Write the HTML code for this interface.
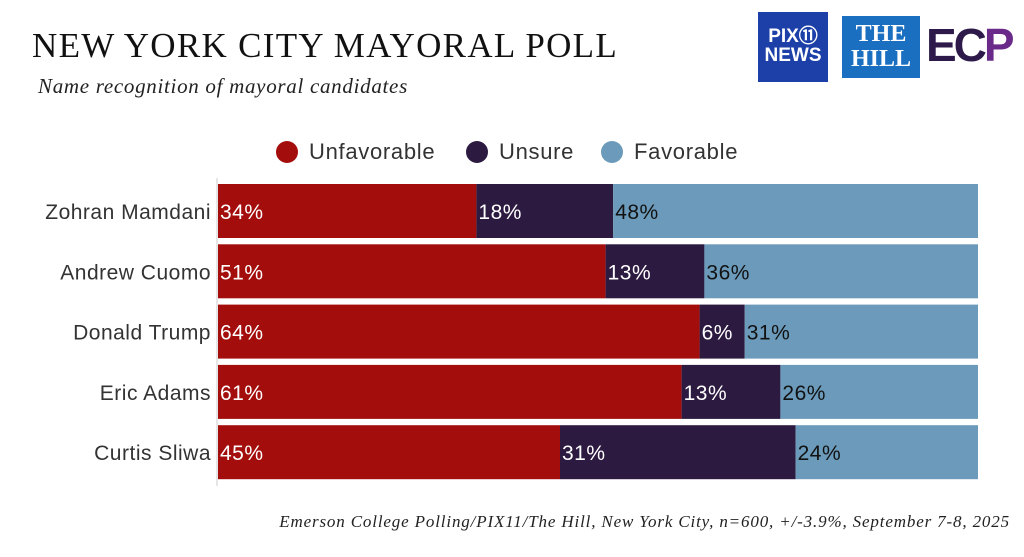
<!DOCTYPE html>
<html><head><meta charset="utf-8"><style>
body{margin:0;width:1024px;height:557px;background:#fff;overflow:hidden;position:relative;font-family:"Liberation Sans",sans-serif}
.t{position:absolute;white-space:nowrap}
</style></head><body>
<div class="t" style="left:32px;top:26px;font-family:'Liberation Serif',serif;font-size:35px;color:#111;letter-spacing:1.3px">NEW YORK CITY MAYORAL POLL</div>
<div class="t" style="left:38px;top:74px;font-family:'Liberation Serif',serif;font-style:italic;font-size:21px;color:#222;letter-spacing:0.7px">Name recognition of mayoral candidates</div>
<div class="t" style="left:758px;top:12px;width:70px;height:70px;background:#1c3fa8;color:#fff;font-weight:bold;font-size:19px;line-height:19px;text-align:center;padding-top:15px;box-sizing:border-box">PIX⑪<br>NEWS</div>
<div class="t" style="left:842px;top:16px;width:78px;height:62px;background:#1b6fc0;color:#fff;font-family:'Liberation Serif',serif;font-weight:bold;font-size:24px;line-height:25px;text-align:center;padding-top:6px;box-sizing:border-box">THE<br>HILL</div>
<div class="t" style="left:926px;top:18px;font-weight:bold;font-size:46px;color:#2d1a4a;letter-spacing:-3px">EC<span style="color:#6a2a8a">P</span></div>
<svg id="c" class="t" style="left:0;top:0" width="1024" height="557"></svg>
<div class="t" style="right:14px;top:512px;font-family:'Liberation Serif',serif;font-style:italic;font-size:17px;letter-spacing:0.85px;color:#222">Emerson College Polling/PIX11/The Hill, New York City, n=600, +/-3.9%, September 7-8, 2025</div>
<script>
const candidates=["Zohran Mamdani","Andrew Cuomo","Donald Trump","Eric Adams","Curtis Sliwa"];
const unfavorable=[34,51,64,61,45];
const unsure=[18,13,6,13,31];
const favorable=[48,36,31,26,24];
const seriesNames=["Unfavorable","Unsure","Favorable"];
const colors=["#a30e0c","#2c1a40","#6b9aba"];
const NS="http://www.w3.org/2000/svg";
const svg=document.getElementById('c');
const x0=218,x1=978;
const rowY=i=>184+i*60.3, bh=54;
function mk(t,a){const e=document.createElementNS(NS,t);for(const k in a)e.setAttribute(k,a[k]);svg.appendChild(e);return e;}
const data=[unfavorable,unsure,favorable];
const FS='font-size:21px;letter-spacing:0.5px;font-family:Liberation Sans, sans-serif';
candidates.forEach((c,i)=>{
  const tot=unfavorable[i]+unsure[i]+favorable[i];
  const xs=v=>x0+(x1-x0)*v/tot;
  let acc=0;
  data.forEach((s,j)=>{
    const v=s[i];
    const r=mk('rect',{x:xs(acc),y:rowY(i),width:xs(acc+v)-xs(acc),height:bh,fill:colors[j]});
    
    
    const t=mk('text',{x:xs(acc)+2,y:rowY(i)+bh/2+8,style:FS,fill:j==2?'#111':'#fff'});
    t.textContent=v+'%';
    
    
    acc+=v;
  });
  const l=mk('text',{x:211,y:rowY(i)+bh/2+8,style:FS,fill:'#333','text-anchor':'end'});
  l.textContent=c;
  
  
});
const ax=mk('line',{x1:217,x2:217,y1:178,y2:486,stroke:'#ccc','stroke-width':1});


const lx=[287,477,612];
seriesNames.forEach((n,j)=>{
  const g=mk('g',{});
  
  
  const c=mk('circle',{cx:lx[j],cy:152,r:11,fill:colors[j]});g.appendChild(c);
  const t=mk('text',{x:lx[j]+22,y:159,style:'font-size:22px;letter-spacing:0.7px;font-family:Liberation Sans, sans-serif',fill:'#333'});t.textContent=n;g.appendChild(t);
});
</script>
</body></html>
